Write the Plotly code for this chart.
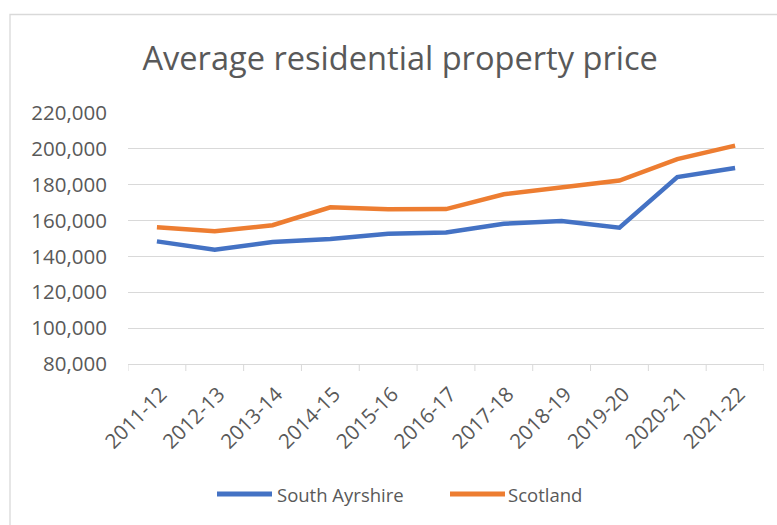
import plotly.graph_objects as go

years = ["2011-12", "2012-13", "2013-14", "2014-15", "2015-16", "2016-17",
         "2017-18", "2018-19", "2019-20", "2020-21", "2021-22"]
south_ayrshire = [148400, 143800, 148000, 149700, 152600, 153400,
                  158200, 159800, 156000, 184300, 189300]
scotland = [156300, 154000, 157400, 167400, 166300, 166400,
            174700, 178800, 182300, 194300, 201800]
series_names = ["South Ayrshire", "Scotland"]
series_colors = ["#4472C4", "#ED7D31"]

FONT = "Open Sans"
GREY = "#595959"
AXIS = "#d9d9d9"

# plot area in pixels
L, R, T, B = 128, 764, 113, 364
W, H = 777, 525


def px(x):
    return (x - L) / (R - L)


def py(y):
    return (B - y) / (B - T)


n = len(years)

fig = go.Figure()
for name, vals, col in zip(series_names, [south_ayrshire, scotland], series_colors):
    fig.add_trace(go.Scatter(x=years, y=vals, name=name, mode="lines",
                             line=dict(color=col, width=4.5), showlegend=False))

fig.update_layout(
    width=W, height=H,
    margin=dict(l=L, r=W - R, t=T, b=H - B),
    paper_bgcolor="white", plot_bgcolor="white",
    font=dict(family=FONT, color=GREY),
    title=dict(text="Average residential property price", x=0.515, xanchor="center",
               y=1 - 59 / H, yanchor="middle",
               font=dict(family=FONT, size=32.6, color=GREY)),
    showlegend=False,
    xaxis=dict(type="category", range=[-0.5, n - 0.5], automargin=False,
               showgrid=False, showline=True, linecolor=AXIS,
               linewidth=1, ticks="", tickangle=-45,
               ticklabelshift=4, ticklabelstandoff=9,
               tickfont=dict(family=FONT, size=20.5, color=GREY)),
    yaxis=dict(range=[80000, 220000], dtick=20000, tickformat=",", automargin=False,
               showgrid=True, gridcolor=AXIS, gridwidth=1, zeroline=False,
               showline=False, ticks="", ticklabelstandoff=20,
               tickfont=dict(family=FONT, size=20.5, color=GREY)),
)

# Excel-style tick marks between categories (x positions in axis units)
for i in range(n + 1):
    fig.add_shape(type="line", xref="x", yref="paper", x0=i - 0.5, x1=i - 0.5,
                  y0=py(364), y1=py(371), line=dict(color=AXIS, width=1))

# chart border
fig.add_shape(type="rect", xref="paper", yref="paper",
              x0=px(10), x1=px(900), y0=py(700), y1=py(14.5),
              line=dict(color=AXIS, width=1.3), fillcolor="rgba(0,0,0,0)", layer="below")

# legend (drawn manually to match sample length)
legend_pos = [(217, 272, 275), (450, 505, 506)]
for (x0, x1, tx), name, col in zip(legend_pos, series_names, series_colors):
    fig.add_shape(type="line", xref="paper", yref="paper",
                  x0=px(x0), x1=px(x1), y0=py(494), y1=py(494),
                  line=dict(color=col, width=5))
    fig.add_annotation(text=name, xref="paper", yref="paper", x=px(tx), y=py(494),
                       xanchor="left", yanchor="middle", showarrow=False,
                       font=dict(family=FONT, size=18.5, color=GREY))

fig.write_html("out.html", config={"displayModeBar": False},
               post_script="document.body.style.margin='0';document.body.style.overflow='hidden';")
